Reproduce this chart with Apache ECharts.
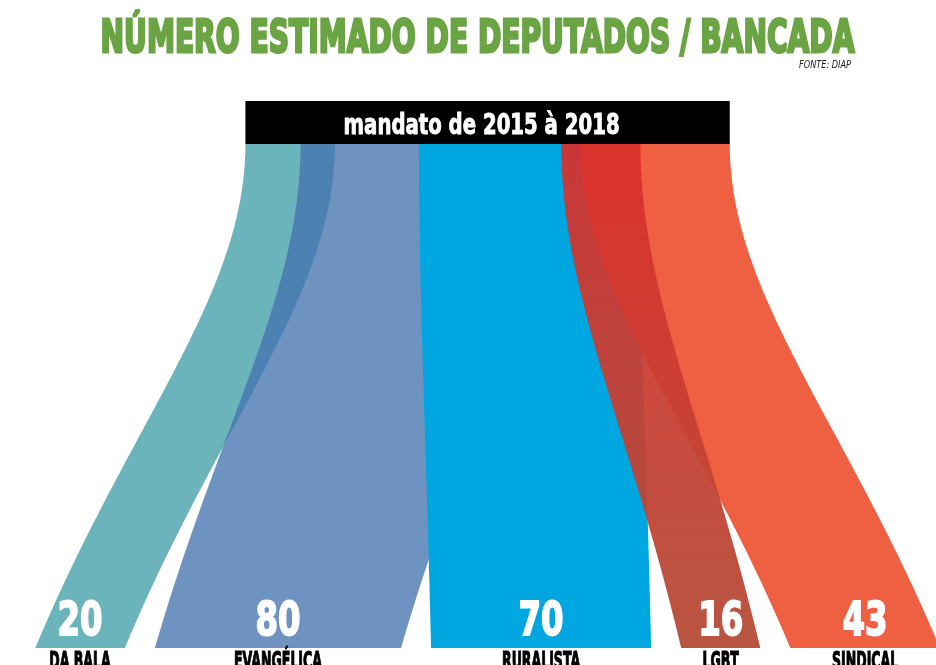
<!DOCTYPE html>
<html>
<head>
<meta charset="utf-8">
<title>Número estimado de deputados / bancada</title>
<script src="https://cdn.jsdelivr.net/npm/echarts@6/dist/echarts.min.js"></script>
<style>
  html, body { margin: 0; padding: 0; background: #fff; }
  #chart { width: 936px; height: 665px; }
</style>
</head>
<body>
<div id="chart"></div>
<script>
const chartTitle = 'NÚMERO ESTIMADO DE DEPUTADOS / BANCADA';
const sourceNote = 'FONTE: DIAP';
const sourceLabel = 'mandato de 2015 à 2018';
const categories = ['DA BALA', 'EVANGÉLICA', 'RURALISTA', 'LGBT', 'SINDICAL'];
const deputados = [20, 80, 70, 16, 43];

// ribbon fills, in category order; LGBT gets a gradient
const COLORS = ['#6cb4bc', 'rgba(66,114,173,0.77)', '#00a6e0', null, '#ef5f41'];
const LGBT_GRAD = ['rgba(218,46,42,0.92)', 'rgba(182,78,58,0.96)'];
const Z_ORDER = [1, 2, 3, 5, 4];
const GREEN = '#6aa443';

// layout in x-axis units (1 unit = 1 deputado at the bottom)
const PAD = 14.3;      // extra width every band gets
const GAP = 11.5;      // white gap between bottom bands
const NECK = 0.81;     // width of the top bar relative to the total
const SPREAD = 0.4;    // how much the top ends are pulled together
const PIVOT_SHIFT = 12.75;
const X_MIN = -13.5, X_MAX = 345;
const BAR_H = 43;

const n = deputados.length;
const total = deputados.reduce((a, b) => a + b, 0);

const bottomEnds = [];
let cur = 0;
deputados.forEach(v => {
  bottomEnds.push([cur, cur + v + PAD]);
  cur += v + PAD + GAP;
});
const mid = (cur - GAP) / 2;
const barL = mid - total * NECK / 2;
const barR = mid + total * NECK / 2;
const pivot = mid + PIVOT_SHIFT;

// top ends keep the band width, pulled toward the pivot; outer bands slide in to the bar edges
const topEnds = bottomEnds.map(([a, b], i) => {
  const w = b - a;
  const c = pivot + SPREAD * ((a + b) / 2 - pivot);
  let l = c - w / 2;
  let r = c + w / 2;
  if (i === 0) { l = barL; r = barL + w; }
  if (i === n - 1) { r = barR; l = barR - w; }
  return [Math.max(barL, l), Math.min(barR, r)];
});

// condensed look: squeeze text horizontally to the width seen in the picture
const measureCtx = document.createElement('canvas').getContext('2d');
function squeeze(text, font, width) {
  measureCtx.font = font;
  return width / measureCtx.measureText(text).width;
}

const TITLE_FONT = 'bold 45px "DejaVu Sans"';
const BAR_FONT = 'bold 28px "DejaVu Sans"';
const NUM_FONT = 'bold 47px "DejaVu Sans"';
const NAME_FONT = 'bold 24px "DejaVu Sans"';
const NOTE_FONT = 'italic 10px "DejaVu Sans"';

const titleScale = squeeze(chartTitle, TITLE_FONT, 754);
const barScale = squeeze(sourceLabel, BAR_FONT, 276);
const numScale = squeeze('80', NUM_FONT, 45);
const nameScale = squeeze('EVANGÉLICA', NAME_FONT, 88);
const noteScale = squeeze(sourceNote, NOTE_FONT, 52);

// cubic edge from a top point down to a bottom point, sampled
function edge(p0, p3) {
  const h = p3[1] - p0[1];
  const dx = p3[0] - p0[0];
  const p1 = [p0[0], p0[1] + 0.3 * h];
  const p2 = [p0[0] + 0.55 * dx, p0[1] + 0.55 * h];
  const pts = [];
  for (let k = 0; k <= 48; k++) {
    const t = k / 48, u = 1 - t;
    pts.push([
      u * u * u * p0[0] + 3 * u * u * t * p1[0] + 3 * u * t * t * p2[0] + t * t * t * p3[0],
      u * u * u * p0[1] + 3 * u * u * t * p1[1] + 3 * u * t * t * p2[1] + t * t * t * p3[1]
    ]);
  }
  return pts;
}

function renderRibbon(params, api) {
  const i = params.dataIndex;
  const tl = api.coord([topEnds[i][0], 1]);
  const tr = api.coord([topEnds[i][1], 1]);
  const bl = api.coord([bottomEnds[i][0], 0]);
  const br = api.coord([bottomEnds[i][1], 0]);
  const pts = edge(tl, bl).concat(edge(tr, br).reverse());
  const fill = COLORS[i] || new echarts.graphic.LinearGradient(0, 0, 0, 1, [
    { offset: 0, color: LGBT_GRAD[0] },
    { offset: 1, color: LGBT_GRAD[1] }
  ]);
  const c = api.coord([(bottomEnds[i][0] + bottomEnds[i][1]) / 2, 0]);
  return {
    type: 'group',
    children: [
      { type: 'polygon', z2: Z_ORDER[i], shape: { points: pts }, style: { fill } },
      {
        type: 'text', z2: 10, x: c[0], y: c[1] - 25.5, scaleX: numScale,
        style: { text: String(api.value(1)), font: NUM_FONT, fill: '#fff', stroke: '#fff', lineWidth: 2, align: 'center', verticalAlign: 'middle' }
      },
      {
        type: 'text', z2: 10, x: c[0], y: c[1] + 14.5, scaleX: nameScale,
        style: { text: categories[i], font: NAME_FONT, fill: '#000', stroke: '#000', lineWidth: 1.2, align: 'center', verticalAlign: 'middle' }
      }
    ]
  };
}

function renderSource(params, api) {
  const a = api.coord([barL, 1]);
  const b = api.coord([barR, 1]);
  return {
    type: 'group',
    children: [
      { type: 'rect', z2: 20, shape: { x: a[0], y: a[1] - BAR_H, width: b[0] - a[0], height: BAR_H }, style: { fill: '#000' } },
      {
        type: 'text', z2: 21, x: (a[0] + b[0]) / 2 - 6, y: a[1] - BAR_H / 2 + 4, scaleX: barScale,
        style: { text: sourceLabel, font: BAR_FONT, fill: '#fff', stroke: '#fff', lineWidth: 1, align: 'center', verticalAlign: 'middle' }
      }
    ]
  };
}

const chart = echarts.init(document.getElementById('chart'));
chart.setOption({
  backgroundColor: '#fff',
  animation: false,
  grid: { left: 0, right: 0, top: 144, bottom: 17 },
  xAxis: { type: 'value', min: X_MIN, max: X_MAX, show: false },
  yAxis: { type: 'value', min: 0, max: 1, show: false },
  graphic: [
    {
      type: 'text', x: 477.5, y: 40, scaleX: titleScale,
      style: { text: chartTitle, font: TITLE_FONT, fill: GREEN, stroke: GREEN, lineWidth: 3, align: 'center', verticalAlign: 'middle' }
    },
    {
      type: 'text', x: 825, y: 65, scaleX: noteScale,
      style: { text: sourceNote, font: NOTE_FONT, fill: '#222', align: 'center', verticalAlign: 'middle' }
    }
  ],
  series: [
    {
      type: 'custom',
      name: 'bancadas',
      renderItem: renderRibbon,
      data: deputados.map((v, i) => [i, v]),
      clip: false
    },
    {
      type: 'custom',
      name: 'mandato',
      renderItem: renderSource,
      data: [[0, total]],
      clip: false
    }
  ]
});
window.addEventListener('resize', () => chart.resize());
</script>
</body>
</html>
